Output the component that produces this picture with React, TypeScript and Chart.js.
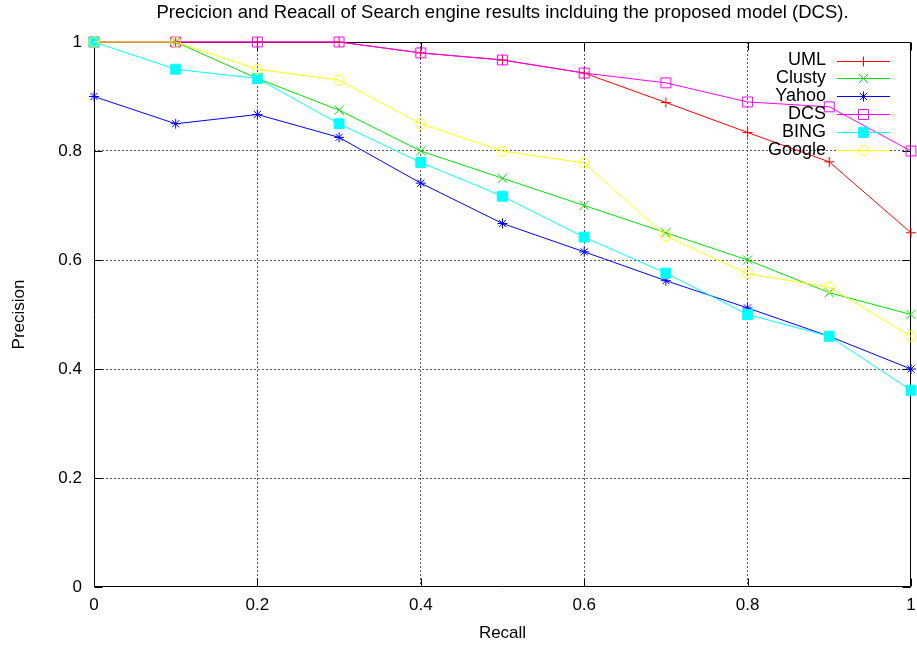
import React, { useEffect, useRef } from 'react';
import { Chart, registerables } from 'chart.js';
import { drawPoint } from 'chart.js/helpers';

Chart.register(...registerables);

const TITLE = 'Precicion and Reacall of Search engine results inclduing the proposed model (DCS).';
const recall = [0, 0.1, 0.2, 0.3, 0.4, 0.5, 0.6, 0.7, 0.8, 0.9, 1];
const uml = [1, 1, 1, 1, 0.98, 0.967, 0.943, 0.889, 0.834, 0.78, 0.65];
const clusty = [1, 1, 0.933, 0.875, 0.8, 0.75, 0.7, 0.65, 0.6, 0.54, 0.5];
const yahoo = [0.9, 0.85, 0.867, 0.825, 0.741, 0.667, 0.615, 0.562, 0.512, 0.46, 0.4];
const dcs = [1, 1, 1, 1, 0.98, 0.967, 0.943, 0.925, 0.89, 0.881, 0.8];
const bing = [1, 0.95, 0.933, 0.85, 0.779, 0.717, 0.642, 0.576, 0.5, 0.46, 0.361];
const google = [1, 1, 0.95, 0.93, 0.85, 0.8, 0.778, 0.644, 0.575, 0.55, 0.46];

const seriesNames = ['UML', 'Clusty', 'Yahoo', 'DCS', 'BING', 'Google'];
const seriesValues = [uml, clusty, yahoo, dcs, bing, google];
const seriesColors = ['#ff0000', '#00e000', '#0000ff', '#ff00ff', '#00ffff', '#ffff00'];
const seriesPointStyles = ['cross', 'crossRot', 'star', 'rect', 'rect', 'circle'];
const seriesPointRadius = [5, 6.5, 5, 7, 7, 5];
const seriesFilled = [false, false, false, false, true, false];

const xTicks = [0, 0.2, 0.4, 0.6, 0.8, 1];
const yTicks = [0, 0.2, 0.4, 0.6, 0.8, 1];
const xTickLabels = ['0', '0.2', '0.4', '0.6', '0.8', '1'];
const yTickLabels = ['0', '0.2', '0.4', '0.6', '0.8', '1'];

const FONT = 'Liberation Sans, Arial, Helvetica, sans-serif';

const framePlugin = {
  id: 'frame',
  beforeDatasetsDraw(chart: any) {
    const { ctx, chartArea, scales } = chart;
    const { left, right, top, bottom } = chartArea;
    const L = Math.round(left) + 0.5;
    const R = Math.round(right) - 0.5;
    const T = Math.round(top) + 0.5;
    const B = Math.round(bottom) - 0.5;
    ctx.save();
    ctx.setLineDash([]);
    ctx.strokeStyle = '#000';
    ctx.lineWidth = 1;
    ctx.beginPath();
    ctx.rect(L, T, R - L, B - T);
    ctx.stroke();
    const tl = 8;
    ctx.beginPath();
    xTicks.forEach((v) => {
      const px = Math.round(scales.x.getPixelForValue(v)) + 0.5;
      ctx.moveTo(px, B);
      ctx.lineTo(px, B - tl);
      ctx.moveTo(px, T);
      ctx.lineTo(px, T + tl);
    });
    yTicks.forEach((v) => {
      const py = Math.round(scales.y.getPixelForValue(v)) + 0.5;
      ctx.moveTo(L, py);
      ctx.lineTo(L + tl, py);
      ctx.moveTo(R, py);
      ctx.lineTo(R - tl, py);
    });
    ctx.stroke();
    ctx.restore();
  },
  afterDraw(chart: any) {
    const { ctx, chartArea } = chart;
    ctx.save();
    ctx.fillStyle = '#000';
    ctx.font = `18.5px ${FONT}`;
    ctx.textAlign = 'center';
    ctx.textBaseline = 'middle';
    ctx.fillText(TITLE, (chartArea.left + chartArea.right) / 2, 13);
    ctx.restore();
  },
};

const legendPlugin = {
  id: 'gnuLegend',
  afterDatasetsDraw(chart: any) {
    const { ctx } = chart;
    seriesNames.forEach((name, i) => {
      ctx.save();
      const y = 60.5 + i * 17.9;
      ctx.font = `18px ${FONT}`;
      ctx.fillStyle = '#000';
      ctx.textAlign = 'right';
      ctx.textBaseline = 'middle';
      ctx.fillText(name, 826, y);
      const ly = Math.round(y) + 0.5;
      ctx.setLineDash([]);
      ctx.lineWidth = 1;
      ctx.strokeStyle = seriesColors[i];
      ctx.beginPath();
      ctx.moveTo(837, ly);
      ctx.lineTo(890, ly);
      ctx.stroke();
      ctx.strokeStyle = seriesColors[i];
      ctx.fillStyle = seriesFilled[i] ? seriesColors[i] : 'rgba(0,0,0,0)';
      drawPoint(ctx, {
        pointStyle: seriesPointStyles[i],
        rotation: 0,
        radius: seriesPointRadius[i],
        borderWidth: 1,
      } as any, 863.5, ly);
      ctx.restore();
    });
  },
};

export default function App() {
  const ref = useRef<HTMLCanvasElement | null>(null);
  useEffect(() => {
    if (!ref.current) return;
    const datasets = seriesNames.map((name, i) => ({
      label: name,
      data: recall.map((r, j) => ({ x: r, y: seriesValues[i][j] })),
      borderColor: seriesColors[i],
      backgroundColor: seriesFilled[i] ? seriesColors[i] : 'rgba(0,0,0,0)',
      pointBackgroundColor: seriesFilled[i] ? seriesColors[i] : 'rgba(0,0,0,0)',
      pointBorderColor: seriesColors[i],
      pointStyle: seriesPointStyles[i],
      pointRadius: seriesPointRadius[i],
      pointBorderWidth: 1,
      borderWidth: 1,
      tension: 0,
      fill: false,
      clip: false,
      order: seriesNames.length - i,
    }));
    const gridColor = (c: any) => (c.tick && (c.tick.value === 0 || c.tick.value === 1) ? 'rgba(0,0,0,0)' : '#555');
    const chart = new Chart(ref.current, {
      type: 'line',
      data: { datasets },
      options: {
        animation: false,
        responsive: true,
        maintainAspectRatio: false,
        layout: { autoPadding: false, padding: { top: 42, right: 6, left: 0, bottom: 0 } },
        plugins: { legend: { display: false }, tooltip: { enabled: false }, title: { display: false } },
        scales: {
          x: {
            type: 'linear',
            min: 0,
            max: 1,
            afterBuildTicks: (s: any) => { s.ticks = xTicks.map((v) => ({ value: v })); },
            afterFit: (s: any) => { s.height = 58; s.paddingLeft = 0; s.paddingRight = 0; },
            ticks: {
              padding: 8,
              color: '#000',
              font: { family: FONT, size: 17 },
              maxRotation: 0,
              autoSkip: false,
              callback: (v: any) => xTickLabels[xTicks.indexOf(Number(v))] ?? '',
            },
            grid: { color: gridColor, drawTicks: false, lineWidth: 1 },
            border: { display: false, dash: [2, 2] },
            title: { display: true, text: 'Recall', color: '#000', font: { family: FONT, size: 17 }, padding: { top: 0, bottom: 1 } },
          },
          y: {
            type: 'linear',
            min: 0,
            max: 1,
            afterBuildTicks: (s: any) => { s.ticks = yTicks.map((v) => ({ value: v })); },
            afterFit: (s: any) => { s.width = 94; s.paddingTop = 0; s.paddingBottom = 0; },
            ticks: {
              padding: 12,
              color: '#000',
              font: { family: FONT, size: 17 },
              autoSkip: false,
              callback: (v: any) => yTickLabels[yTicks.indexOf(Number(v))] ?? '',
            },
            grid: { color: gridColor, drawTicks: false, lineWidth: 1 },
            border: { display: false, dash: [2, 2] },
            title: { display: true, text: 'Precision', color: '#000', font: { family: FONT, size: 17 }, padding: { top: 9, bottom: 0 } },
          },
        },
      },
      plugins: [framePlugin, legendPlugin],
    } as any);
    return () => chart.destroy();
  }, []);
  return (
    <div style={{ position: 'fixed', left: 0, top: 0, width: 917, height: 645, background: '#fff' }}>
      <canvas ref={ref} />
    </div>
  );
}
